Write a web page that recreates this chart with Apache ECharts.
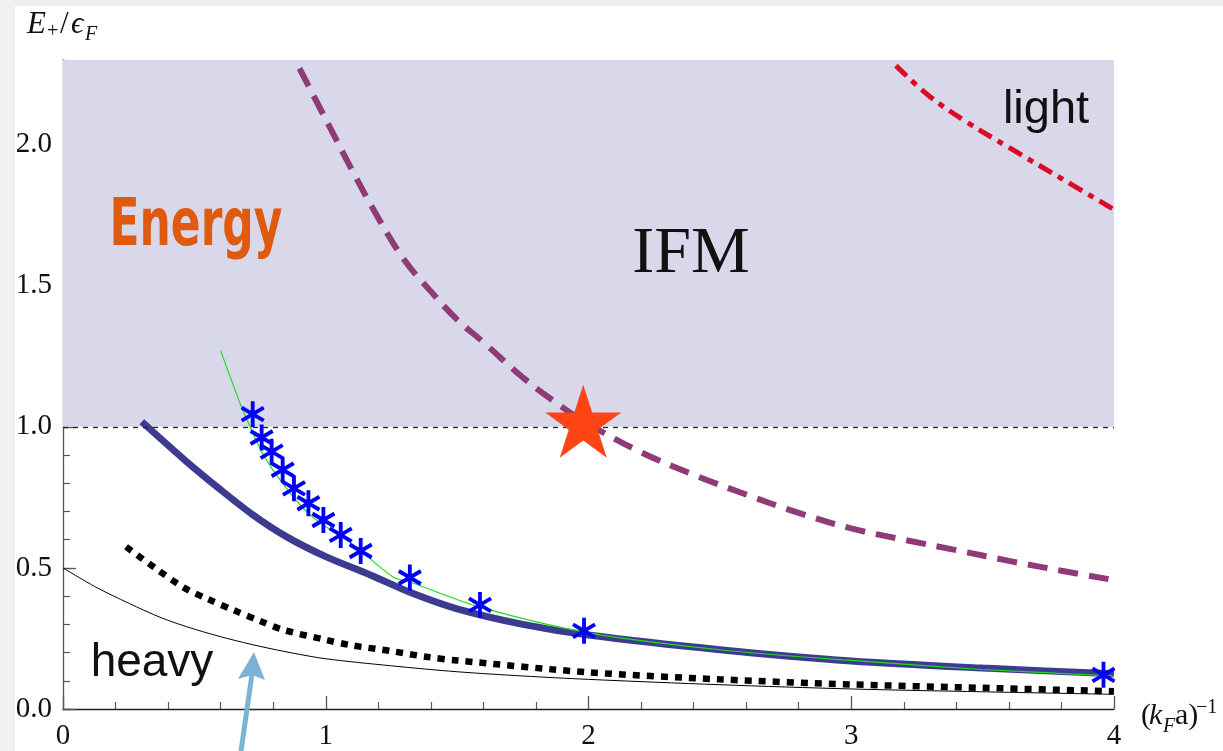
<!DOCTYPE html>
<html>
<head>
  <meta charset="utf-8" />
  <title>E+/eF vs (kFa)^-1</title>
  <style type="text/css">
    html, body { margin: 0; padding: 0; background: #eef0f2; }
    #main { width: 1223px; height: 751px; }
  </style>
</head>
<body>
  <div id="main"></div>
  <script src="https://cdn.jsdelivr.net/npm/echarts@6/dist/echarts.min.js"></script>
  <script>
    // ---- data ----
    var bareX = [0, 0.125, 0.25, 0.375, 0.5, 0.625, 0.75, 0.875, 1.0, 1.25, 1.5, 1.75, 2.0, 2.5, 3.0, 3.5, 4.0];
    var bareY = [0.5, 0.432, 0.375, 0.323, 0.283, 0.25, 0.222, 0.198, 0.178, 0.153, 0.132, 0.117, 0.105, 0.086, 0.071, 0.061, 0.052];

    var dotX = [0.24, 0.35, 0.46, 0.55, 0.65, 0.75, 0.84, 1.0, 1.09, 1.25, 1.39, 1.5, 2.0, 2.5, 3.0, 3.5, 4.0];
    var dotY = [0.575, 0.50, 0.43, 0.39, 0.35, 0.312, 0.28, 0.245, 0.227, 0.205, 0.184, 0.172, 0.13, 0.105, 0.087, 0.075, 0.063];

    var navyX = [0.3, 0.47, 0.6, 0.72, 0.85, 1.0, 1.17, 1.33, 1.5, 1.75, 2.0, 2.5, 3.0, 3.5, 4.0];
    var navyY = [1.018, 0.877, 0.777, 0.69, 0.611, 0.54, 0.475, 0.41, 0.355, 0.30, 0.262, 0.21, 0.17, 0.145, 0.125];

    var greenX = [0.6, 0.676, 0.712, 0.763, 0.826, 0.94, 1.104, 1.256, 1.32, 1.59, 2.0, 2.5, 3.0, 3.5, 4.0];
    var greenY = [1.27, 1.078, 1.0, 0.90, 0.812, 0.688, 0.582, 0.468, 0.45, 0.36, 0.27, 0.21, 0.172, 0.14, 0.117];

    var starsX = [0.722, 0.756, 0.794, 0.836, 0.879, 0.934, 0.991, 1.057, 1.133, 1.32, 1.587, 1.983, 3.96];
    var starsY = [1.045, 0.962, 0.912, 0.848, 0.782, 0.729, 0.67, 0.617, 0.56, 0.466, 0.369, 0.277, 0.121];

    var ifmX = [0.9, 1.0, 1.1, 1.2, 1.3, 1.4, 1.5, 1.6, 1.75, 1.9, 2.0, 2.2, 2.4, 2.6, 2.8, 3.0, 3.2, 3.4, 3.6, 3.8, 4.0];
    var ifmY = [2.27, 2.09, 1.91, 1.74, 1.59, 1.48, 1.38, 1.30, 1.175, 1.07, 1.01, 0.91, 0.83, 0.76, 0.695, 0.64, 0.60, 0.563, 0.525, 0.49, 0.457];

    var lightX = [3.17, 3.3, 3.44, 3.6, 3.8, 4.0];
    var lightY = [2.28, 2.17, 2.08, 1.99, 1.88, 1.77];

    var critical = [1.98, 1.02];
    var fermiLevel = 1.0;
    var yMax = 2.3;

    var yLabels = [0, 0.5, 1.0, 1.5, 2.0];
    var xLabels = [0, 1, 2, 3, 4];

    function zip(xs, ys) {
      return xs.map(function (x, i) { return [x, ys[i]]; });
    }

    var yMinorTicks = [];
    for (var i = 0; i <= 23; i++) yMinorTicks.push(i / 10);

    // six-armed asterisk built from three bars
    var asteriskPath = 'path://M-1.5,-10L1.5,-10L1.5,10L-1.5,10Z' +
      'M7.91,-6.30L9.41,-3.70L-7.91,6.30L-9.41,3.70Z' +
      'M-9.41,-3.70L-7.91,-6.30L9.41,3.70L7.91,6.30Z';
    var starPath = 'path://M0,-100L22.45,-30.9L95.1,-30.9L36.3,11.8L58.8,80.9L0,38.2L-58.8,80.9L-36.3,11.8L-95.1,-30.9L-22.45,-30.9Z';

    var serif = '"Liberation Serif", "DejaVu Serif", serif';
    var sans = '"Liberation Sans", Arial, sans-serif';

    var myChart = echarts.init(document.getElementById('main'));

    var option = {
      backgroundColor: '#eef0f2',
      animation: false,
      grid: { left: 63, right: 109, top: 60, bottom: 42 },
      xAxis: {
        type: 'value',
        min: 0,
        max: 4,
        interval: 1,
        axisLine: { show: true, lineStyle: { color: '#222', width: 1.3 } },
        axisTick: { inside: true, length: 13, lineStyle: { color: '#555', width: 1.3 } },
        minorTick: { show: true, splitNumber: 5, length: 7, lineStyle: { color: '#555', width: 1.2 } },
        axisLabel: { color: '#111', fontFamily: serif, fontSize: 29, margin: 13,
          customValues: xLabels },
        splitLine: { show: false }
      },
      yAxis: [{
        type: 'value',
        min: 0,
        max: yMax,
        axisLine: { show: true, lineStyle: { color: '#555', width: 1.3 } },
        axisTick: { inside: true, length: 7, customValues: yMinorTicks,
          lineStyle: { color: '#555', width: 1.2 } },
        axisLabel: { color: '#111', fontFamily: serif, fontSize: 29, margin: 11,
          customValues: yLabels,
          formatter: function (v) { return v.toFixed(1); } },
        splitLine: { show: false }
      }, {
        type: 'value',
        position: 'left',
        min: 0,
        max: yMax,
        axisLine: { show: false },
        axisTick: { show: true, inside: true, length: 13, customValues: yLabels,
          lineStyle: { color: '#555', width: 1.3 } },
        axisLabel: { show: false },
        splitLine: { show: false }
      }],
      graphic: [
        { type: 'rect', z: -10, shape: { x: 15, y: 6, width: 1208, height: 745 },
          style: { fill: '#ffffff' } },
        // y axis name  E+/eF
        { type: 'text', z: 100, x: 27, y: 40, style: { text: 'E', font: 'italic 31px ' + serif, fill: '#111', verticalAlign: 'bottom' } },
        { type: 'text', z: 100, x: 47, y: 42, style: { text: '+', font: '20px ' + serif, fill: '#111', verticalAlign: 'bottom' } },
        { type: 'text', z: 100, x: 60, y: 40, style: { text: '/', font: '31px ' + serif, fill: '#111', verticalAlign: 'bottom' } },
        { type: 'text', z: 100, x: 71, y: 40, style: { text: 'ϵ', font: 'italic 31px ' + serif, fill: '#111', verticalAlign: 'bottom' } },
        { type: 'text', z: 100, x: 85, y: 45, style: { text: 'F', font: 'italic 20px ' + serif, fill: '#111', verticalAlign: 'bottom' } },
        // x axis name  (kF a)^-1
        { type: 'text', z: 100, x: 1141, y: 731, style: { text: '(', font: '30px ' + serif, fill: '#111', verticalAlign: 'bottom' } },
        { type: 'text', z: 100, x: 1149, y: 731, style: { text: 'k', font: 'italic 30px ' + serif, fill: '#111', verticalAlign: 'bottom' } },
        { type: 'text', z: 100, x: 1163, y: 737, style: { text: 'F', font: 'italic 20px ' + serif, fill: '#111', verticalAlign: 'bottom' } },
        { type: 'text', z: 100, x: 1175, y: 731, style: { text: 'a)', font: '30px ' + serif, fill: '#111', verticalAlign: 'bottom' } },
        { type: 'text', z: 100, x: 1196, y: 718, style: { text: '−1', font: '20px ' + serif, fill: '#111', verticalAlign: 'bottom' } },
        // annotations
        { type: 'text', z: 100, x: 196, y: 228, scaleX: 0.88, scaleY: 1.3,
          style: { text: 'Energy', font: 'bold 50px "DejaVu Sans", sans-serif',
          fill: '#df5a0e', align: 'center', verticalAlign: 'middle' } },
        { type: 'text', z: 100, x: 691, y: 255, style: { text: 'IFM', font: '66px ' + serif,
          fill: '#111', align: 'center', verticalAlign: 'middle' } },
        { type: 'text', z: 100, x: 1046, y: 110, style: { text: 'light', font: '47px ' + sans,
          fill: '#111', align: 'center', verticalAlign: 'middle' } },
        { type: 'text', z: 100, x: 152, y: 663, style: { text: 'heavy', font: '46px ' + sans,
          fill: '#111', align: 'center', verticalAlign: 'middle' } },
        // arrow
        { type: 'line', z: 100, shape: { x1: 241, y1: 751, x2: 252, y2: 674 },
          style: { stroke: '#7ab3d6', lineWidth: 5 } },
        { type: 'polygon', z: 100, shape: { points: [[254, 652], [238, 679], [252, 675], [265, 680]] },
          style: { fill: '#7ab3d6' } }
      ],
      series: [{
        name: 'bare',
        type: 'line',
        data: zip(bareX, bareY),
        smooth: 0.3,
        showSymbol: false,
        lineStyle: { color: '#000', width: 1 },
        z: 3,
        markArea: {
          silent: true,
          itemStyle: { color: '#d9d8ea', opacity: 1 },
          data: [[{ xAxis: 0, yAxis: fermiLevel }, { xAxis: 4, yAxis: yMax }]]
        },
        markLine: {
          silent: true,
          symbol: 'none',
          label: { show: false },
          lineStyle: { color: '#222', width: 1.3, type: [5, 5] },
          data: [{ yAxis: fermiLevel }]
        }
      }, {
        name: 'dotted',
        type: 'line',
        data: zip(dotX, dotY),
        smooth: 0.3,
        showSymbol: false,
        lineStyle: { color: '#000', width: 6.5, type: [7, 7] },
        z: 3
      }, {
        name: 'navy',
        type: 'line',
        data: zip(navyX, navyY),
        smooth: 0.3,
        showSymbol: false,
        lineStyle: { color: '#3d3b8f', width: 7 },
        z: 4
      }, {
        name: 'fit',
        type: 'line',
        data: zip(greenX, greenY),
        smooth: 0.3,
        showSymbol: false,
        lineStyle: { color: '#1edc1e', width: 1.2 },
        z: 5
      }, {
        name: 'qmc',
        type: 'scatter',
        data: zip(starsX, starsY),
        symbol: asteriskPath,
        symbolSize: [24, 26],
        itemStyle: { color: '#0000ff', opacity: 1 },
        z: 6
      }, {
        name: 'ifm',
        type: 'line',
        data: zip(ifmX, ifmY),
        smooth: 0.4,
        showSymbol: false,
        lineStyle: { color: '#8e3b77', width: 6, type: [20, 11] },
        z: 5
      }, {
        name: 'light',
        type: 'line',
        data: zip(lightX, lightY),
        smooth: 0.4,
        showSymbol: false,
        lineStyle: { color: '#dc0a24', width: 5, type: [15, 7, 6, 7] },
        z: 5
      }, {
        name: 'critical',
        type: 'scatter',
        data: [critical],
        symbol: starPath,
        symbolSize: [76, 73],
        itemStyle: { color: '#ff4515', opacity: 1 },
        z: 7
      }]
    };
    myChart.setOption(option);
  </script>
</body>
</html>
